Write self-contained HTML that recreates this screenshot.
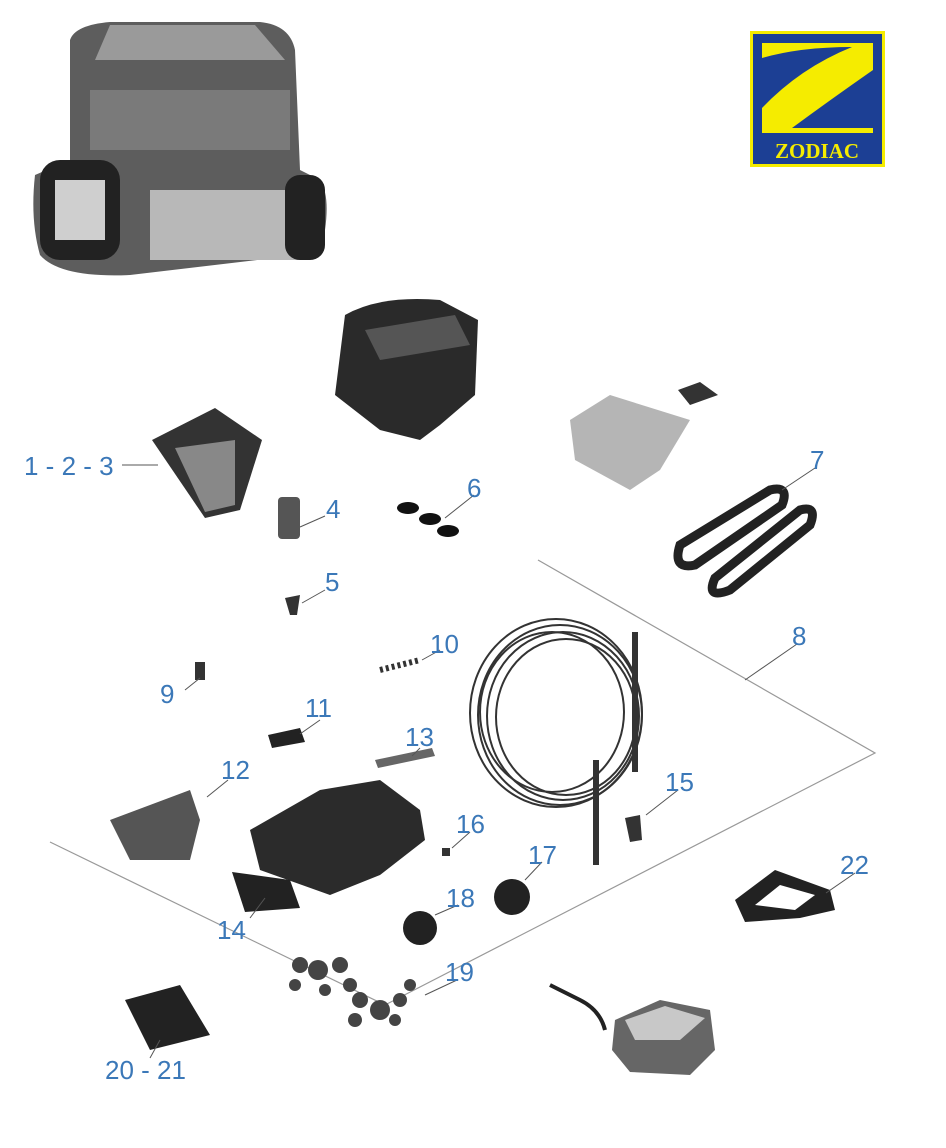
<!DOCTYPE html>
<html><head><meta charset="utf-8"><style>
html,body{margin:0;padding:0;background:#fff;}
svg{display:block}
text.l{font-family:"Liberation Sans",sans-serif;font-size:26px;fill:#3b78b8;}
</style></head><body>
<svg width="946" height="1148" viewBox="0 0 946 1148" xmlns="http://www.w3.org/2000/svg">
<!-- logo -->
<rect x="750" y="31" width="135" height="136" fill="#f5ec00"/>
<rect x="753" y="34" width="129" height="130" fill="#1c3f94"/>
<rect x="762" y="43" width="111" height="90" fill="#f5ec00"/>
<path d="M762 58 Q800 47 852 47 Q800 68 762 108 Z" fill="#1c3f94"/>
<path d="M873 70 L873 128 L792 128 Q830 100 873 70 Z" fill="#1c3f94"/>
<text x="817" y="158" text-anchor="middle" font-family="Liberation Serif,serif" font-weight="bold" font-size="21" fill="#f5ec00">ZODIAC</text>
<!-- robot -->
<path d="M70 40 Q75 25 110 22 L260 22 Q290 25 295 50 L300 170 L320 180 Q330 195 325 230 L300 255 L130 275 Q60 278 40 255 Q30 220 35 175 L70 160 Z" fill="#5d5d5d"/>
<path d="M110 25 L255 25 L285 60 L95 60 Z" fill="#9a9a9a"/>
<rect x="90" y="90" width="200" height="60" fill="#7a7a7a"/>
<rect x="40" y="160" width="80" height="100" rx="20" fill="#222"/>
<rect x="55" y="180" width="50" height="60" fill="#cfcfcf"/>
<rect x="150" y="190" width="150" height="70" fill="#b8b8b8"/>
<rect x="285" y="175" width="40" height="85" rx="15" fill="#222"/>
<!-- body part -->
<path d="M345 315 Q380 295 440 300 L478 320 L475 395 L440 425 L420 440 L380 430 L335 395 Z" fill="#2a2a2a"/>
<path d="M365 330 L455 315 L470 345 L380 360 Z" fill="#555"/>
<!-- lid -->
<path d="M570 420 L610 395 L690 420 L660 470 L630 490 L575 460 Z" fill="#b5b5b5"/>
<path d="M678 390 L700 382 L718 395 L690 405 Z" fill="#333"/>
<!-- filter 1-2-3 -->
<path d="M152 440 L215 408 L262 440 L240 510 L205 518 Z" fill="#333"/>
<path d="M175 448 L235 440 L235 505 L205 512 Z" fill="#888"/>
<!-- 4 -->
<rect x="278" y="497" width="22" height="42" rx="4" fill="#555"/>
<!-- 5 -->
<path d="M285 598 L300 595 L297 615 L290 615 Z" fill="#333"/>
<!-- 6 -->
<ellipse cx="408" cy="508" rx="11" ry="6" fill="#111"/>
<ellipse cx="430" cy="519" rx="11" ry="6" fill="#111"/>
<ellipse cx="448" cy="531" rx="11" ry="6" fill="#111"/>
<!-- 7 tracks -->
<g fill="none" stroke="#222" stroke-width="9">
<path d="M680 545 L770 490 Q790 485 782 505 L695 565 Q672 570 680 545 Z"/>
<path d="M715 578 L800 510 Q818 505 810 525 L730 590 Q705 600 715 578 Z"/>
</g>
<!-- parallelogram -->
<path d="M538 560 L875 753 L385 1005 L50 842" fill="none" stroke="#999" stroke-width="1.2"/>
<!-- cable coil -->
<g fill="none" stroke="#333" stroke-width="2">
<ellipse cx="560" cy="715" rx="82" ry="90"/><ellipse cx="563" cy="716" rx="76" ry="84"/>
<ellipse cx="566" cy="717" rx="70" ry="78"/><ellipse cx="556" cy="713" rx="86" ry="94"/>
<ellipse cx="552" cy="712" rx="72" ry="80"/>
</g>
<rect x="632" y="632" width="6" height="140" fill="#333"/>
<rect x="593" y="760" width="6" height="105" fill="#333"/>
<!-- small parts -->
<rect x="195" y="662" width="10" height="18" fill="#333"/>
<path d="M380 670 L420 660" stroke="#333" stroke-width="6" stroke-dasharray="3 3"/>
<path d="M268 735 L300 728 L305 742 L272 748 Z" fill="#222"/>
<path d="M375 760 L432 748 L435 756 L378 768 Z" fill="#666"/>
<path d="M110 820 L190 790 L200 820 L190 860 L130 860 Z" fill="#555"/>
<!-- chassis -->
<path d="M250 830 L320 790 L380 780 L420 810 L425 840 L380 875 L330 895 L260 870 Z" fill="#2b2b2b"/>
<path d="M232 872 L290 880 L300 908 L245 912 Z" fill="#222"/>
<path d="M625 818 L640 815 L642 840 L630 842 Z" fill="#333"/>
<rect x="442" y="848" width="8" height="8" fill="#333"/>
<circle cx="512" cy="897" r="18" fill="#222"/>
<circle cx="420" cy="928" r="17" fill="#222"/>
<path d="M735 900 L775 870 L830 890 L835 910 L800 918 L745 922 Z" fill="#222"/>
<path d="M755 905 L780 885 L815 895 L795 910 Z" fill="#fff"/>
<!-- gears 19 -->
<g fill="#444">
<circle cx="300" cy="965" r="8"/><circle cx="318" cy="970" r="10"/><circle cx="340" cy="965" r="8"/>
<circle cx="295" cy="985" r="6"/><circle cx="325" cy="990" r="6"/><circle cx="350" cy="985" r="7"/>
<circle cx="360" cy="1000" r="8"/><circle cx="380" cy="1010" r="10"/><circle cx="400" cy="1000" r="7"/>
<circle cx="355" cy="1020" r="7"/><circle cx="395" cy="1020" r="6"/><circle cx="410" cy="985" r="6"/>
</g>
<!-- brush 20-21 -->
<path d="M125 1000 L180 985 L210 1035 L150 1050 Z" fill="#222"/>
<!-- power supply -->
<path d="M615 1020 L660 1000 L710 1010 L715 1050 L690 1075 L630 1072 L612 1050 Z" fill="#666"/>
<path d="M625 1020 L665 1006 L705 1018 L680 1040 L635 1040 Z" fill="#c8c8c8"/>
<path d="M550 985 L580 1000 Q600 1010 605 1030" fill="none" stroke="#222" stroke-width="4"/>
<!-- leaders -->
<g stroke="#555" stroke-width="1" fill="none">
<path d="M122 465 L158 465"/><path d="M325 516 L300 527"/><path d="M325 590 L302 603"/>
<path d="M474 495 L445 518"/><path d="M815 468 L782 490"/><path d="M797 644 L745 680"/>
<path d="M185 690 L200 678"/><path d="M440 650 L422 660"/><path d="M320 720 L300 734"/>
<path d="M228 780 L207 797"/><path d="M420 748 L412 756"/><path d="M250 918 L265 898"/>
<path d="M678 790 L646 815"/><path d="M470 832 L452 848"/><path d="M542 862 L525 880"/>
<path d="M458 905 L435 915"/><path d="M457 980 L425 995"/><path d="M150 1058 L160 1040"/>
<path d="M855 873 L826 893"/>
</g>
<!-- labels -->
<text class="l" x="24" y="475">1 - 2 - 3</text>
<text class="l" x="326" y="518">4</text>
<text class="l" x="325" y="591">5</text>
<text class="l" x="467" y="497">6</text>
<text class="l" x="810" y="469">7</text>
<text class="l" x="792" y="645">8</text>
<text class="l" x="160" y="703">9</text>
<text class="l" x="430" y="653">10</text>
<text class="l" x="305" y="717">11</text>
<text class="l" x="221" y="779">12</text>
<text class="l" x="405" y="746">13</text>
<text class="l" x="217" y="939">14</text>
<text class="l" x="665" y="791">15</text>
<text class="l" x="456" y="833">16</text>
<text class="l" x="528" y="864">17</text>
<text class="l" x="446" y="907">18</text>
<text class="l" x="445" y="981">19</text>
<text class="l" x="105" y="1079">20 - 21</text>
<text class="l" x="840" y="874">22</text>
</svg>
</body></html>
